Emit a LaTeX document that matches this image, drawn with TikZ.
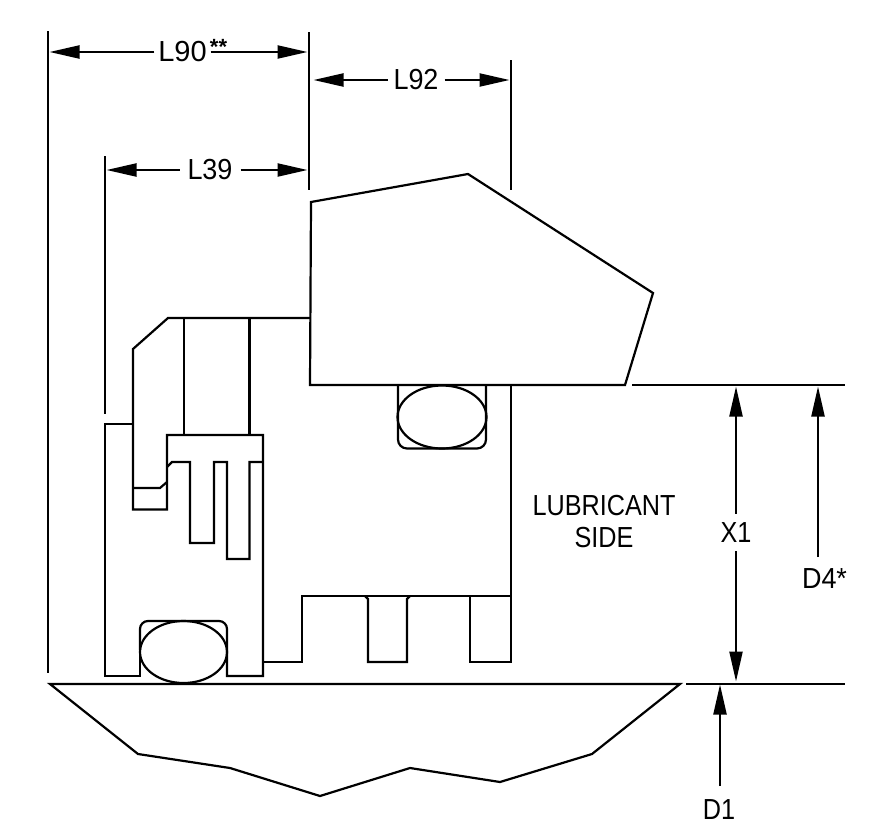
\documentclass[tikz,border=0pt]{standalone}
\usepackage{fontspec}
\usepackage{graphicx}
\setmainfont{Liberation Sans}
\usetikzlibrary{arrows.meta,positioning}
\newcommand{\cond}[1]{\scalebox{0.87}[1]{#1}}
\newcommand{\condb}[1]{\scalebox{0.93}[1]{#1}}
\tikzset{
	part/.style={line width=2.2pt,line join=miter},
	extline/.style={line width=2.2pt},
	dimline/.style={line width=2.2pt,-{Triangle[length=30pt,width=13pt]},shorten >=0.5pt},
	dimlabel/.style={inner xsep=7pt,inner ysep=9pt,outer sep=0pt,font=\fontsize{29}{30}\selectfont}
}
\begin{document}
\begin{tikzpicture}[x=1pt,y=-1pt]
	  \useasboundingbox (0,0) rectangle (890,827);
	  % Extension lines
	  \draw [extline] (48,31) coordinate (e_1) -- (48,673);
	  \draw [extline] (309,32) coordinate (e_2) -- (309,190);
	  \draw [extline] (105,156) coordinate (e_3) -- (105,414);
	  \draw [extline] (511,60) coordinate (e_4) -- (511,190);
	  \draw [extline] (632,385) -- (845,385);
	  \draw [extline] (686,684) -- (845,684);
	  % Dimension labels
	  \node [dimlabel,inner xsep=4pt] (l90) at (182.5,52) {L90};
	  \node [inner sep=0pt,font=\fontsize{22}{22}\bfseries\selectfont] (l90star) at (218.5,47) {**};
	  \node [dimlabel,inner xsep=8pt] (l39) at (210,170) {\condb{L39}};
	  \node [dimlabel,inner xsep=6pt] (l92) at (416,80) {\condb{L92}};
	  \node [dimlabel] (x1) at (736,532.5) {\cond{X1}};
	  \node [dimlabel] (d4) at (824.5,578.5) {\condb{D4*}};
	  \node [dimlabel] (d1) at (719,810) {\cond{D1}};
	  \node [font=\fontsize{29}{32}\selectfont,align=center,inner sep=0pt] (side) at (604,521.5) {\cond{LUBRICANT}\\\cond{SIDE}};
	  % Dimension arrows
	  \draw [dimline] (l90) -- (49,52) coordinate (l90_a);
	  \draw [dimline] (l90) -- (308,52) coordinate (l90_b);
	  \draw [dimline] (l39) -- (106,170) coordinate (l39_a);
	  \draw [dimline] (l39) -- (308,170) coordinate (l39_b);
	  \draw [dimline] (l92) -- (313,80) coordinate (l92_a);
	  \draw [dimline] (l92) -- (510,80) coordinate (l92_b);
	  \draw [dimline] (x1) -- (736,386) coordinate (x1_a);
	  \draw [dimline] (x1) -- (736,682) coordinate (x1_b);
	  \draw [dimline] (818,557) coordinate (d4_t) -- (818,386) coordinate (d4_a);
	  \draw [dimline] (720,786) coordinate (d1_t) -- (720,684) coordinate (d1_a);
	  % Collar
	  \draw [part] (311,202) -- (468,174) -- (653,293) -- (625,385) -- (310,385) -- cycle;
	  % Outer housing
	  \draw [part] (310,318) -- (168,318) -- (133,349) -- (133,509.5) -- (167,509.5) -- (167,435) -- (263,435) -- (263,676) -- (227,676) -- (227,650);
	  \draw [part] (184,318) -- (184,435);
	  \draw [part] (249.5,318) -- (249.5,435);
	  \draw [part] (133,488) -- (160,488) -- (167,482);
	  \draw [part] (167,467) -- (172,462) -- (190,462) -- (190,543) -- (214,543) -- (214,462) -- (227,462) -- (227,559) -- (249.5,559) -- (249.5,462) -- (263,462);
	  % Left lip
	  \draw [part] (133,424) -- (105,424) -- (105,676) -- (140,676) -- (140,650);
	  % Shaft side body
	  \draw [part] (263,662) -- (302,662) -- (302,596) -- (512,596);
	  \draw [part] (511,385) -- (511,662) -- (470,662) -- (470,596);
	  \draw [part] (365,596) -- (368,599) -- (368,662) -- (407,662) -- (407,599) -- (410,596);
	  % O-rings and their grooves
	  \draw [part] (183.5,652) ellipse (43.5 and 31);
	  \draw [part,rounded corners=8pt] (140,650) -- (140,621) -- (227,621) -- (227,650);
	  \draw [part] (442,417) ellipse (44.5 and 31.5);
	  \draw [part,rounded corners=9pt] (398,385) -- (398,448.5) -- (486,448.5) -- (486,385);
	  % Shaft
	  \draw [part] (50,684) -- (680,684) -- (592,754) -- (500,782) -- (410,768) -- (320,796) -- (230,768) -- (138,754) -- cycle;
      \end{tikzpicture}
\end{document}
